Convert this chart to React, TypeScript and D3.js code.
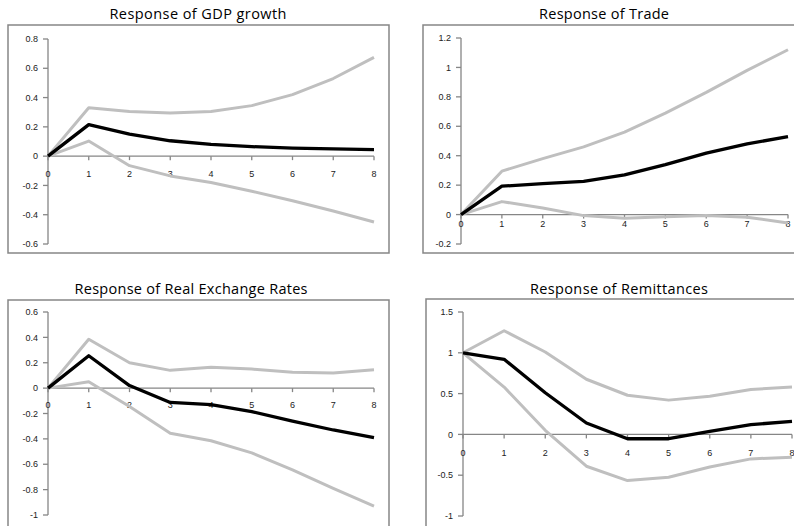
import React from "react";
import * as d3 from "d3";

const horizons = [0, 1, 2, 3, 4, 5, 6, 7, 8];
const xTickLabels = ["0", "1", "2", "3", "4", "5", "6", "7", "8"];

const titles = [
  "Response of GDP growth",
  "Response of Trade",
  "Response of Real Exchange Rates",
  "Response of Remittances",
];

// GDP growth
const gdpMid = [0, 0.215, 0.15, 0.105, 0.08, 0.065, 0.055, 0.05, 0.045];
const gdpUp = [0, 0.33, 0.305, 0.295, 0.305, 0.345, 0.42, 0.53, 0.675];
const gdpLo = [0, 0.103, -0.065, -0.135, -0.18, -0.24, -0.305, -0.375, -0.45];
const gdpYTicks = [0.8, 0.6, 0.4, 0.2, 0, -0.2, -0.4, -0.6];
const gdpYLabels = ["0.8", "0.6", "0.4", "0.2", "0", "-0.2", "-0.4", "-0.6"];

// Trade
const tradeMid = [0, 0.193, 0.21, 0.225, 0.27, 0.34, 0.418, 0.48, 0.53];
const tradeUp = [0, 0.295, 0.38, 0.46, 0.56, 0.69, 0.83, 0.98, 1.12];
const tradeLo = [0, 0.088, 0.045, -0.007, -0.025, -0.015, -0.007, -0.018, -0.057];
const tradeYTicks = [1.2, 1, 0.8, 0.6, 0.4, 0.2, 0, -0.2];
const tradeYLabels = ["1.2", "1", "0.8", "0.6", "0.4", "0.2", "0", "-0.2"];

// Real exchange rates
const rerMid = [0, 0.255, 0.02, -0.113, -0.13, -0.185, -0.26, -0.33, -0.39];
const rerUp = [0, 0.385, 0.2, 0.14, 0.165, 0.15, 0.125, 0.12, 0.145];
const rerLo = [0, 0.05, -0.145, -0.355, -0.415, -0.51, -0.645, -0.79, -0.93];
const rerYTicks = [0.6, 0.4, 0.2, 0, -0.2, -0.4, -0.6, -0.8, -1];
const rerYLabels = ["0.6", "0.4", "0.2", "0", "-0.2", "-0.4", "-0.6", "-0.8", "-1"];

// Remittances
const remMid = [1, 0.92, 0.51, 0.14, -0.053, -0.053, 0.037, 0.12, 0.16];
const remUp = [1, 1.27, 1.01, 0.676, 0.48, 0.42, 0.467, 0.55, 0.58];
const remLo = [1, 0.58, 0.05, -0.39, -0.566, -0.525, -0.4, -0.3, -0.28];
const remYTicks = [1.5, 1, 0.5, 0, -0.5, -1];
const remYLabels = ["1.5", "1", "0.5", "0", "-0.5", "-1"];

type PanelCfg = {
  title: string;
  titleX: number;
  titleY: number;
  titleLen: number;
  box: [number, number, number, number];
  axisX: number;
  xEnd: number;
  yTop: number;
  yBottom: number;
  yMax: number;
  yMin: number;
  yTicks: number[];
  yLabels: string[];
  xLabelOffset: number;
  mid: number[];
  up: number[];
  lo: number[];
};

const panels: PanelCfg[] = [
  {
    title: titles[0], titleX: 198, titleY: 19, titleLen: 177,
    box: [8, 25, 389, 253], axisX: 48, xEnd: 374, yTop: 39, yBottom: 244,
    yMax: 0.8, yMin: -0.6, yTicks: gdpYTicks, yLabels: gdpYLabels, xLabelOffset: 21,
    mid: gdpMid, up: gdpUp, lo: gdpLo,
  },
  {
    title: titles[1], titleX: 604, titleY: 19, titleLen: 130,
    box: [423, 25, 800, 253], axisX: 461, xEnd: 788, yTop: 38, yBottom: 244,
    yMax: 1.2, yMin: -0.2, yTicks: tradeYTicks, yLabels: tradeYLabels, xLabelOffset: 12,
    mid: tradeMid, up: tradeUp, lo: tradeLo,
  },
  {
    title: titles[2], titleX: 191, titleY: 294, titleLen: 233,
    box: [8, 300, 389, 540], axisX: 48, xEnd: 374, yTop: 312, yBottom: 515,
    yMax: 0.6, yMin: -1, yTicks: rerYTicks, yLabels: rerYLabels, xLabelOffset: 20,
    mid: rerMid, up: rerUp, lo: rerLo,
  },
  {
    title: titles[3], titleX: 619, titleY: 294, titleLen: 178,
    box: [426, 299, 800, 540], axisX: 463, xEnd: 792, yTop: 312, yBottom: 516,
    yMax: 1.5, yMin: -1, yTicks: remYTicks, yLabels: remYLabels, xLabelOffset: 22,
    mid: remMid, up: remUp, lo: remLo,
  },
];

const AXIS = "#868686";
const BAND = "#bfbfbf";
const LABEL = "#222";

function Panel({ cfg }: { cfg: PanelCfg }) {
  const x = d3.scaleLinear().domain([0, 8]).range([cfg.axisX, cfg.xEnd]);
  const y = d3.scaleLinear().domain([cfg.yMin, cfg.yMax]).range([cfg.yBottom, cfg.yTop]);
  const line = d3
    .line<number>()
    .x((_, i) => x(horizons[i]))
    .y((d) => y(d));
  const [bx0, by0, bx1, by1] = cfg.box;
  const y0 = y(0);
  return (
    <g>
      <text
        x={cfg.titleX}
        y={cfg.titleY}
        textAnchor="middle"
        fontFamily="'Open Sans', 'Liberation Sans', sans-serif"
        fontSize={14.5}
        fill="#000"
        textLength={cfg.titleLen}
        lengthAdjust="spacing"
      >
        {cfg.title}
      </text>
      <rect x={bx0} y={by0} width={bx1 - bx0} height={by1 - by0} fill="#fff" stroke={AXIS} strokeWidth={1.5} />
      {/* y axis */}
      <line x1={cfg.axisX} x2={cfg.axisX} y1={y(cfg.yMax)} y2={y(cfg.yMin)} stroke={AXIS} strokeWidth={1.3} />
      {cfg.yTicks.map((t, i) => (
        <g key={"yt" + i}>
          <line x1={cfg.axisX - 5} x2={cfg.axisX} y1={y(t)} y2={y(t)} stroke={AXIS} strokeWidth={1.3} />
          <text
            x={cfg.axisX - 10}
            y={y(t)}
            dy="0.35em"
            textAnchor="end"
            fontFamily="'Liberation Sans', Arial, sans-serif"
            fontSize={9}
            fill={LABEL}
          >
            {cfg.yLabels[i]}
          </text>
        </g>
      ))}
      {/* x axis */}
      <line x1={cfg.axisX} x2={cfg.xEnd} y1={y0} y2={y0} stroke={AXIS} strokeWidth={1.3} />
      {horizons.map((h, i) => (
        <g key={"xt" + i}>
          <line x1={x(h)} x2={x(h)} y1={y0} y2={y0 + 4} stroke={AXIS} strokeWidth={1.3} />
          <text
            x={x(h)}
            y={y0 + cfg.xLabelOffset}
            textAnchor="middle"
            fontFamily="'Liberation Sans', Arial, sans-serif"
            fontSize={9}
            fill={LABEL}
          >
            {xTickLabels[i]}
          </text>
        </g>
      ))}
      <path d={line(cfg.up) || ""} fill="none" stroke={BAND} strokeWidth={3} strokeLinejoin="round" />
      <path d={line(cfg.lo) || ""} fill="none" stroke={BAND} strokeWidth={3} strokeLinejoin="round" />
      <path d={line(cfg.mid) || ""} fill="none" stroke="#000" strokeWidth={3.3} strokeLinejoin="round" />
    </g>
  );
}

export default function App() {
  return (
    <svg
      width={794}
      height={526}
      style={{ position: "fixed", left: 0, top: 0, background: "#fff" }}
    >
      <rect x={0} y={0} width={794} height={526} fill="#fff" />
      {panels.map((p, i) => (
        <Panel key={i} cfg={p} />
      ))}
    </svg>
  );
}
